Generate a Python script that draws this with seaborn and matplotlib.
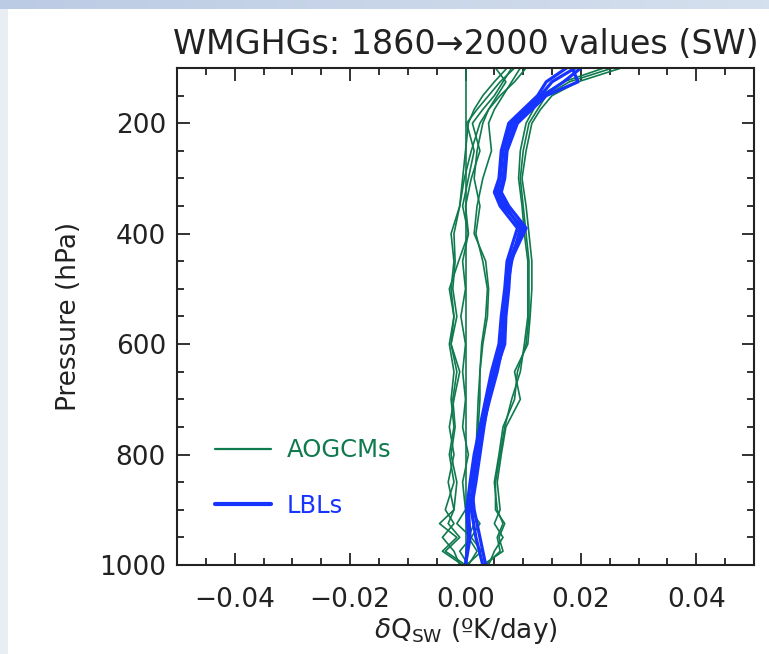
import numpy as np
import pandas as pd
import matplotlib
matplotlib.use("Agg")
import matplotlib.pyplot as plt
import seaborn as sns
from matplotlib.lines import Line2D
from matplotlib.ticker import MultipleLocator, FuncFormatter

# Pressure levels (hPa)
p_gcm = [100, 125, 150, 175, 200, 250, 300, 350, 400, 450, 500, 550,
         600, 650, 700, 750, 800, 850, 900, 925, 950, 975, 1000]
p_lbl = [100, 125, 150, 175, 200, 250, 300, 325, 350, 390, 450, 500,
         550, 600, 650, 700, 750, 800, 850, 900, 950, 1000]

# SW heating rate change, in 1e-3 K/day
aogcm = {
    "gcm01": [0.0] * 23,
    "gcm02": [7.2, 5.0, 3.0, 1.5, 0.5, 0.0, -0.5, -1.0, -2.5, -2.0, -2.5, -2.0,
              -2.8, -2.0, -2.5, -2.0, -2.8, -2.0, -3.5, -2.0, -4.0, -2.0, -1.0],
    "gcm03": [10.5, 8.5, 6.0, 4.0, 2.5, 1.0, -0.2, -1.0, -2.0, -1.8, -2.2, -1.5,
              -2.5, -1.5, -2.2, -1.8, -2.5, -1.5, -2.0, -4.5, -1.5, -4.0, -0.5],
    "gcm04": [8.0, 6.5, 5.0, 3.0, 1.2, 2.5, 1.0, 0.0, 0.5, -1.2, -2.8, -2.0,
              -2.5, -1.0, -2.0, -2.8, -2.0, -3.0, -2.0, -3.0, -1.0, -3.5, 0.0],
    "gcm05": [9.5, 8.0, 6.5, 5.0, 4.0, 4.5, 3.0, 2.0, 1.5, 3.5, 4.0, 3.8,
              3.0, 2.5, 2.5, 2.2, 2.0, 1.5, 1.0, 1.5, 0.5, 2.0, 0.5],
    "gcm06": [5.2, 7.0, 5.5, 4.0, 3.0, 2.0, 1.5, 2.5, 1.8, 3.0, 3.8, 3.5,
              2.8, 2.5, 2.2, 2.0, 1.8, 1.2, 0.8, 2.5, 1.0, 2.8, 0.2],
    "gcm07": [25.5, 18.0, 14.0, 12.5, 11.0, 10.0, 9.5, 10.0, 10.5, 11.0, 11.0, 11.0,
              10.5, 9.0, 8.5, 6.5, 5.8, 5.0, 5.5, 6.5, 5.5, 6.0, 3.5],
    "gcm08": [27.0, 19.5, 15.0, 13.0, 11.5, 10.5, 9.8, 10.5, 11.0, 11.5, 11.5, 11.2,
              10.8, 8.5, 9.5, 7.0, 6.2, 5.5, 6.0, 5.0, 6.5, 5.0, 4.0],
    "gcm09": [8.5, 6.0, 4.0, 2.0, 0.2, 1.5, 0.5, -0.5, 0.5, -0.5, 0.0, -0.8,
              0.0, -0.5, 0.0, -0.5, 0.5, -0.5, 0.0, -1.5, 1.0, -1.0, 0.5],
    "gcm10": [24.0, 17.0, 13.0, 11.8, 10.5, 9.5, 9.2, 9.8, 10.2, 10.8, 10.8, 10.8,
              10.2, 9.5, 8.0, 6.8, 6.0, 5.2, 5.2, 6.8, 5.8, 6.5, 3.0],
}
lbl = {
    "lbl1": [19.0, 15.0, 13.0, 10.5, 8.0, 6.5, 6.0, 5.5, 6.5, 10.0, 7.5, 7.0,
             6.8, 6.2, 5.0, 3.8, 2.8, 2.2, 1.5, 0.5, 0.8, 0.0],
    "lbl2": [20.0, 17.0, 13.5, 11.0, 8.5, 7.0, 6.5, 6.0, 7.0, 9.5, 8.0, 7.2,
             6.5, 6.5, 5.5, 4.2, 3.0, 2.0, 1.0, 1.5, 2.5, 3.5],
    "lbl3": [17.5, 14.0, 12.5, 10.0, 7.5, 6.2, 5.8, 5.0, 6.0, 9.0, 7.2, 6.8,
             6.2, 5.8, 4.5, 3.5, 2.5, 1.5, 0.8, 0.2, 0.5, 0.0],
    "lbl4": [18.5, 19.5, 14.0, 11.5, 9.0, 7.2, 6.8, 6.2, 7.5, 10.5, 7.8, 7.5,
             7.0, 6.8, 5.2, 4.0, 3.2, 2.5, 1.8, 1.0, 1.8, 3.0],
}

GREEN = "#0f7a4e"
BLUE = "#1733ff"


def to_long(d, levels):
    rows = []
    for name, vals in d.items():
        for p, v in zip(levels, vals):
            rows.append({"model": name, "p": p, "dq": v * 1e-3})
    return pd.DataFrame(rows)


df_gcm = to_long(aogcm, p_gcm)
df_lbl = to_long(lbl, p_lbl)

sns.set_style("ticks")
plt.rcParams["font.family"] = ["DejaVu Sans"]

fig = plt.figure(figsize=(7.69, 6.54), dpi=100)
fig.patch.set_facecolor("white")

# slide-like border bands
band = fig.add_axes([0, 1 - 9 / 654, 1, 9 / 654], zorder=-5)
grad = np.linspace(0, 1, 200)[None, :]
band.imshow(grad, aspect="auto", cmap=matplotlib.colors.LinearSegmentedColormap.from_list(
    "b", ["#bccbe4", "#d5e0ee"]))
band.axis("off")
side = fig.add_axes([0, 0, 8 / 769, 1 - 9 / 654], zorder=-5)
side.set_facecolor("#e9eef5")
side.set_xticks([])
side.set_yticks([])
for s in side.spines.values():
    s.set_visible(False)

ax = fig.add_axes([177 / 769, 1 - 565 / 654, 577 / 769, 497 / 654])

sns.lineplot(data=df_gcm, x="dq", y="p", units="model", estimator=None, sort=False,
             color=GREEN, lw=1.2, ax=ax)
sns.lineplot(data=df_lbl, x="dq", y="p", units="model", estimator=None, sort=False,
             color=BLUE, lw=2.3, ax=ax)

ax.set_xlim(-0.05, 0.05)
ax.set_ylim(1000, 100)
ax.set_xticks([-0.04, -0.02, 0.0, 0.02, 0.04])
ax.xaxis.set_minor_locator(MultipleLocator(0.005))
ax.set_yticks([200, 400, 600, 800, 1000])
ax.yaxis.set_minor_locator(MultipleLocator(50))
ax.xaxis.set_major_formatter(FuncFormatter(
    lambda v, pos: ("%.2f" % (0.0 if abs(v) < 1e-9 else v)).replace("-", "\u2212")))

ax.tick_params(which="both", direction="in", top=True, right=True, width=1.3, colors="#222222")
ax.tick_params(which="major", length=9, labelsize=19)
ax.tick_params(which="minor", length=5)
ax.tick_params(axis="x", which="major", pad=16)
ax.tick_params(axis="y", which="major", pad=8)
for s in ax.spines.values():
    s.set_linewidth(1.5)
    s.set_color("#222222")

ax.set_title("WMGHGs: 1860\u21922000 values (SW)", fontsize=24, pad=10, color="#222222")
ax.set_ylabel("Pressure (hPa)", fontsize=19, labelpad=12, color="#222222")
ax.set_xlabel(r"$\delta$Q$_{\rm SW}$ (ºK/day)", fontsize=19, labelpad=2, color="#222222")

handles = [Line2D([], [], color=GREEN, lw=1.6, label="AOGCMs"),
           Line2D([], [], color=BLUE, lw=3.0, label="LBLs")]
ax.legend(handles=handles, loc="upper left", bbox_to_anchor=(0.066, 0.255),
          frameon=False, fontsize=17.5, labelcolor="linecolor", handlelength=2.3,
          handletextpad=0.65, labelspacing=1.3, borderpad=0, borderaxespad=0)

fig.savefig("out.png", dpi=100)
